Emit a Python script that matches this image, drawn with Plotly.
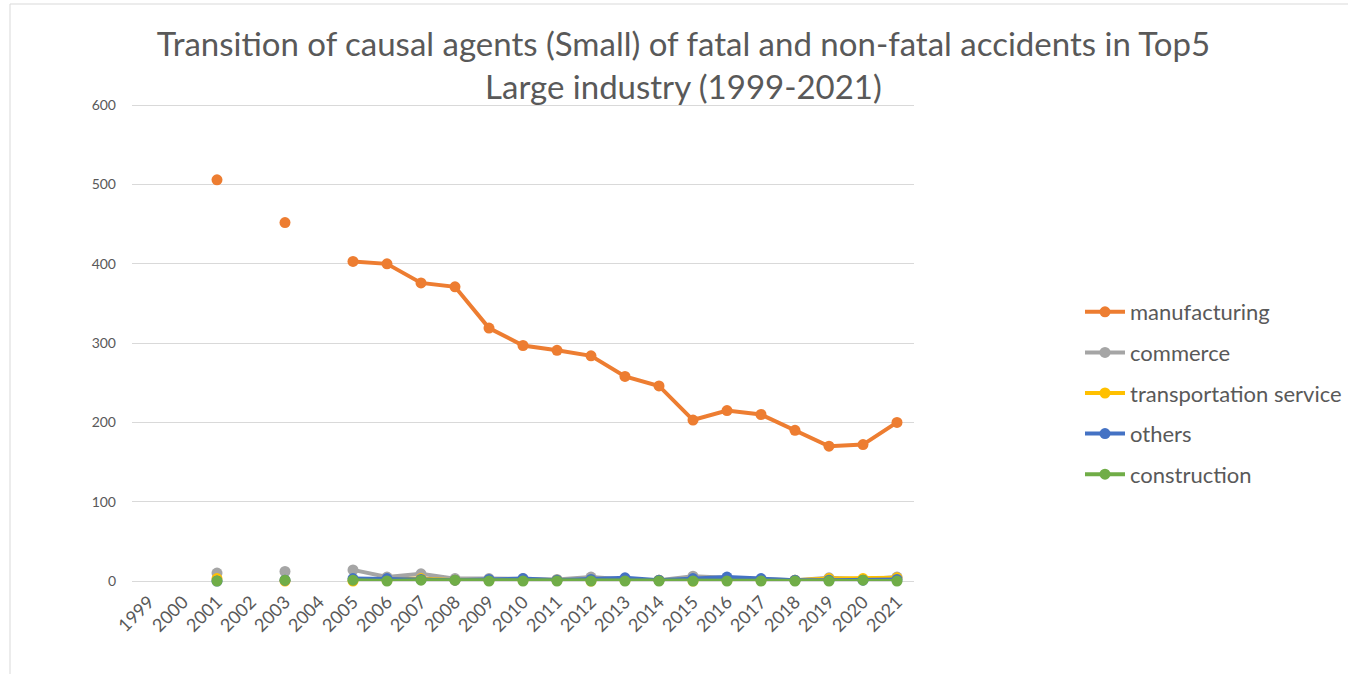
import plotly.graph_objects as go

years = list(range(1999, 2022))
year_labels = [str(y) for y in years]

manufacturing = [None, None, 506, None, 452, None, 403, 400, 376, 371, 319, 297, 291, 284,
                 258, 246, 203, 215, 210, 190, 170, 172, 200]
commerce = [None, None, 10, None, 12, None, 14, 5, 9, 3, 3, 3, 2, 5, 2, 1, 6, 4, 2, 1, 4, 2, 5]
transportation = [None, None, 3, None, 0, None, 0, 1, 3, 1, 1, 1, 1, 0, 1, 1, 0, 1, 1, 1, 3, 3, 4]
others = [None, None, 0, None, 1, None, 3, 3, 2, 1, 2, 3, 1, 2, 4, 1, 3, 5, 3, 1, 1, 1, 2]
construction = [None, None, 0, None, 1, None, 1, 0, 1, 1, 0, 0, 0, 0, 0, 0, 0, 0, 0, 0, 0, 1, 0]

series = [
    ("manufacturing", manufacturing, "#ED7D31"),
    ("commerce", commerce, "#A5A5A5"),
    ("transportation service", transportation, "#FFC000"),
    ("others", others, "#4472C4"),
    ("construction", construction, "#70AD47"),
]

fig = go.Figure()
for name, vals, color in series:
    fig.add_trace(go.Scatter(
        x=years, y=vals, name=name, mode="lines+markers",
        line=dict(color=color, width=4),
        marker=dict(color=color, size=11),
        connectgaps=False, cliponaxis=False, legendgroup=name,
    ))

L, R, T, B = 132, 434, 104, 93
W, H = 1348, 674
pw, ph = W - L - R, H - T - B

def px_x(p):
    return (p - L) / pw

def px_y(p):
    return (H - B - p) / ph

fig.update_layout(
    width=W, height=H,
    margin=dict(l=L, r=R, t=T, b=B, autoexpand=False),
    paper_bgcolor="white", plot_bgcolor="white",
    font=dict(family="Lato", color="#595959"),
    title=dict(
        text="Transition of causal agents (Small) of fatal and non-fatal accidents in Top5<br>Large industry (1999-2021)",
        x=0.507, xanchor="center", y=1 - 56 / H, yanchor="middle",
        font=dict(family="Lato", size=33, color="#595959"),
    ),
    xaxis=dict(
        range=[1998.5, 2021.5], tickmode="array", tickvals=years, ticktext=year_labels,
        tickangle=-45, showgrid=False, zeroline=False, showline=False,
        tickfont=dict(family="Lato", size=18, color="#595959"),
        ticklabelstandoff=6,
    ),
    yaxis=dict(
        range=[0, 601.6], tickmode="array", tickvals=[0, 100, 200, 300, 400, 500, 600],
        showgrid=True, gridcolor="#D9D9D9", gridwidth=1,
        zeroline=True, zerolinecolor="#D9D9D9", zerolinewidth=1, showline=False,
        tickfont=dict(family="Lato", size=14, color="#595959"),
        ticklabelstandoff=15,
    ),
    legend=dict(
        x=px_x(1080), y=px_y(393), xanchor="left", yanchor="middle",
        font=dict(family="Lato", size=22, color="#595959"),
        tracegroupgap=9, itemwidth=40, bgcolor="rgba(0,0,0,0)",
    ),
    showlegend=True,
    shapes=[
        dict(type="rect", xref="paper", yref="paper",
             x0=px_x(10), x1=px_x(1360), y0=px_y(690), y1=px_y(4),
             line=dict(color="#D9D9D9", width=1), fillcolor="rgba(0,0,0,0)", layer="below"),
    ],
)

fig.write_html("out.html", config={"displayModeBar": False},
               post_script="document.body.style.margin='0';")
